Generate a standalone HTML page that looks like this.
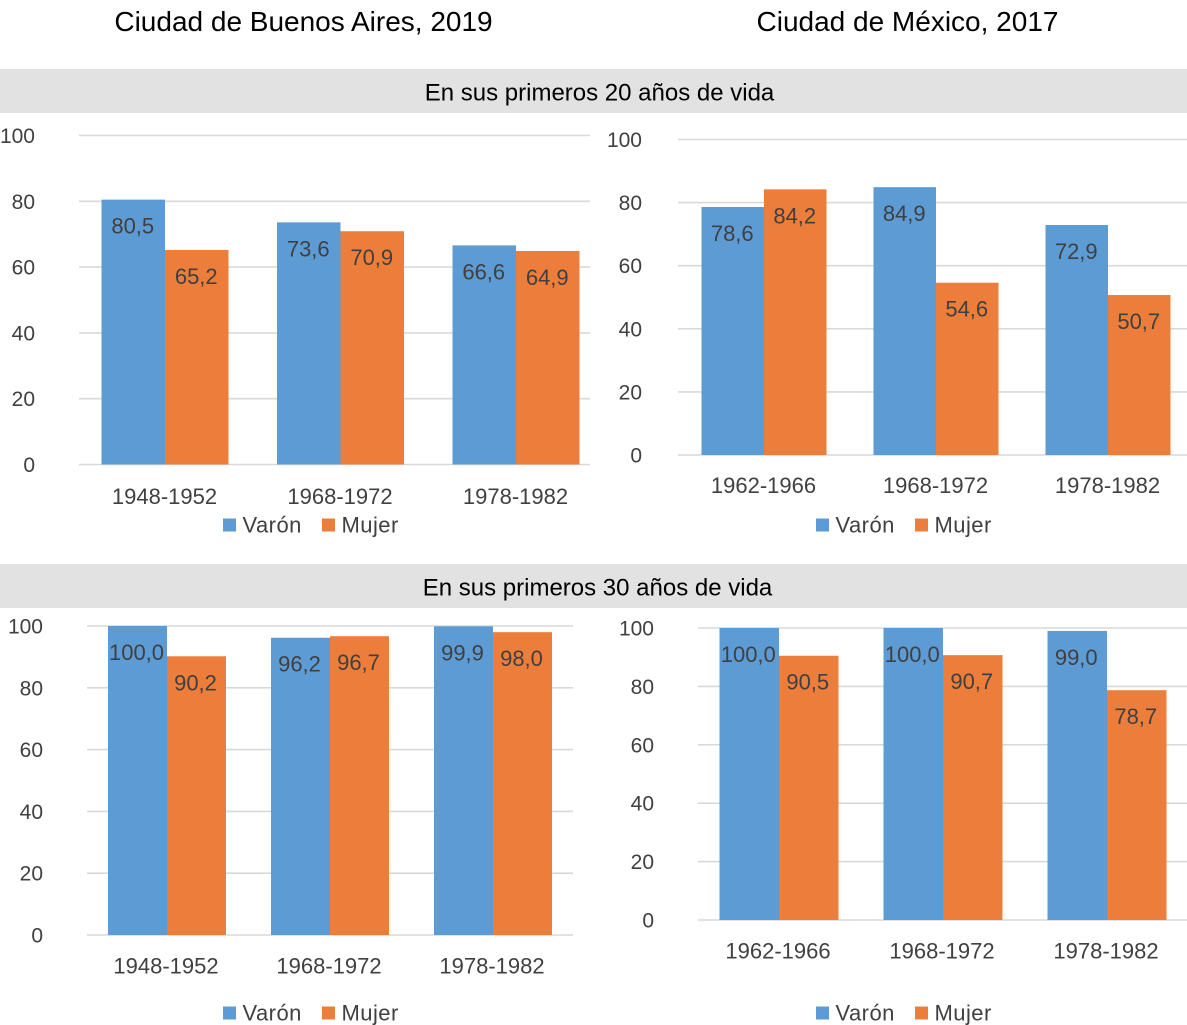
<!DOCTYPE html>
<html lang="es">
<head>
<meta charset="utf-8">
<title>Ciudad de Buenos Aires y Ciudad de México</title>
<style>
html,body{margin:0;padding:0;background:#fff;}
body{width:1187px;height:1025px;overflow:hidden;position:relative;font-family:"Liberation Sans",sans-serif;}
svg{position:absolute;left:0;top:0;}
.grid{stroke:#d9d9d9;stroke-width:1.6;}
.lab{font-family:"Liberation Sans",sans-serif;font-size:22px;fill:#404040;}
.tick{font-size:21px;}
.leg{letter-spacing:.45px;}
.head{font-family:"Liberation Sans",sans-serif;fill:#000;}
</style>
</head>
<body>
<svg id="fig" width="1187" height="1025" viewBox="0 0 1187 1025">
  <text class="head" x="303.5" y="31" font-size="28" text-anchor="middle">Ciudad de Buenos Aires, 2019</text>
  <text class="head" x="907.5" y="31" font-size="28" text-anchor="middle">Ciudad de México, 2017</text>
  <rect x="0" y="69" width="1187" height="44" fill="#e2e2e2"/>
  <text class="head" x="599.5" y="100.5" font-size="24" text-anchor="middle">En sus primeros 20 años de vida</text>
  <rect x="0" y="564" width="1187" height="44" fill="#e2e2e2"/>
  <text class="head" x="597.5" y="595.5" font-size="24" text-anchor="middle">En sus primeros 30 años de vida</text>
</svg>
<script>
var yTicks = [0, 20, 40, 60, 80, 100];
var seriesNames = ["Varón", "Mujer"];

var baCategories = ["1948-1952", "1968-1972", "1978-1982"];
var mxCategories = ["1962-1966", "1968-1972", "1978-1982"];

var ba20Varon = [80.5, 73.6, 66.6];
var ba20Mujer = [65.2, 70.9, 64.9];
var mx20Varon = [78.6, 84.9, 72.9];
var mx20Mujer = [84.2, 54.6, 50.7];
var ba30Varon = [100.0, 96.2, 99.9];
var ba30Mujer = [90.2, 96.7, 98.0];
var mx30Varon = [100.0, 100.0, 99.0];
var mx30Mujer = [90.5, 90.7, 78.7];

var COLORS = ["#5d9bd4", "#ec7d3a"];
var NS = "http://www.w3.org/2000/svg";
var fig = document.getElementById("fig");

function add(tag, attrs, parent) {
  var el = document.createElementNS(NS, tag);
  for (var k in attrs) el.setAttribute(k, attrs[k]);
  (parent || fig).appendChild(el);
  return el;
}

function drawChart(id, cats, varon, mujer, f) {
  var g = add("g", {});
  
  

  function y(v) { return f.y0 + (f.y100 - f.y0) * v / 100; }
  function cx(i) { return f.c0 + f.pitch * i; }

  yTicks.forEach(function (t) {
    var line = add("line", {x1: f.left, x2: f.right, y1: y(t), y2: y(t), "class": "grid"}, g);
    
    
    var lab = add("text", {x: f.tickX, y: y(t) + 7.5, "class": "lab tick", "text-anchor": "end"}, g);
    
    
    lab.textContent = String(t);
  });

  [varon, mujer].forEach(function (vals, s) {
    vals.forEach(function (v, i) {
      var x = cx(i) + (s === 0 ? -f.bw : 0);
      var bar = add("rect", {x: x, y: y(v), width: f.bw, height: y(0) - y(v), fill: COLORS[s]}, g);
      
      
    });
  });

  [varon, mujer].forEach(function (vals, s) {
    vals.forEach(function (v, i) {
      var x = cx(i) + (s === 0 ? -f.bw / 2 : f.bw / 2) + f.labDx;
      var lab = add("text", {x: x, y: y(v) + 34, "class": "lab", "text-anchor": "middle"}, g);
      
      
      lab.textContent = v.toFixed(1).replace(".", ",");
    });
  });

  cats.forEach(function (c, i) {
    var lab = add("text", {x: cx(i) + f.labDx, y: f.catY, "class": "lab", "text-anchor": "middle"}, g);
    
    
    lab.textContent = c;
  });

  seriesNames.forEach(function (n, s) {
    var lx = f.legX + s * 99;
    var sw = add("rect", {x: lx, y: f.legY - 6.5, width: 13, height: 13, fill: COLORS[s]}, g);
    
    
    var lab = add("text", {x: lx + 19.5, y: f.legY + 7.5, "class": "lab leg"}, g);
    
    
    lab.textContent = n;
  });
}

drawChart("ba20", baCategories, ba20Varon, ba20Mujer,
  {y0: 464.5, y100: 135.5, left: 79, right: 590, c0: 165, pitch: 175.5, bw: 63.5, labDx: -0.5, tickX: 35, catY: 504, legX: 223, legY: 525});
drawChart("mx20", mxCategories, mx20Varon, mx20Mujer,
  {y0: 455, y100: 139.5, left: 678, right: 1187, c0: 764, pitch: 172, bw: 62.5, labDx: -0.5, tickX: 642, catY: 493, legX: 816, legY: 525});
drawChart("ba30", baCategories, ba30Varon, ba30Mujer,
  {y0: 935, y100: 626, left: 87, right: 573, c0: 167, pitch: 163, bw: 59, labDx: -1, tickX: 43, catY: 973.5, legX: 223, legY: 1013});
drawChart("mx30", mxCategories, mx30Varon, mx30Mujer,
  {y0: 920, y100: 628, left: 698, right: 1187, c0: 779, pitch: 164, bw: 59.5, labDx: -1, tickX: 654, catY: 958.5, legX: 816, legY: 1013});
</script>
</body>
</html>
